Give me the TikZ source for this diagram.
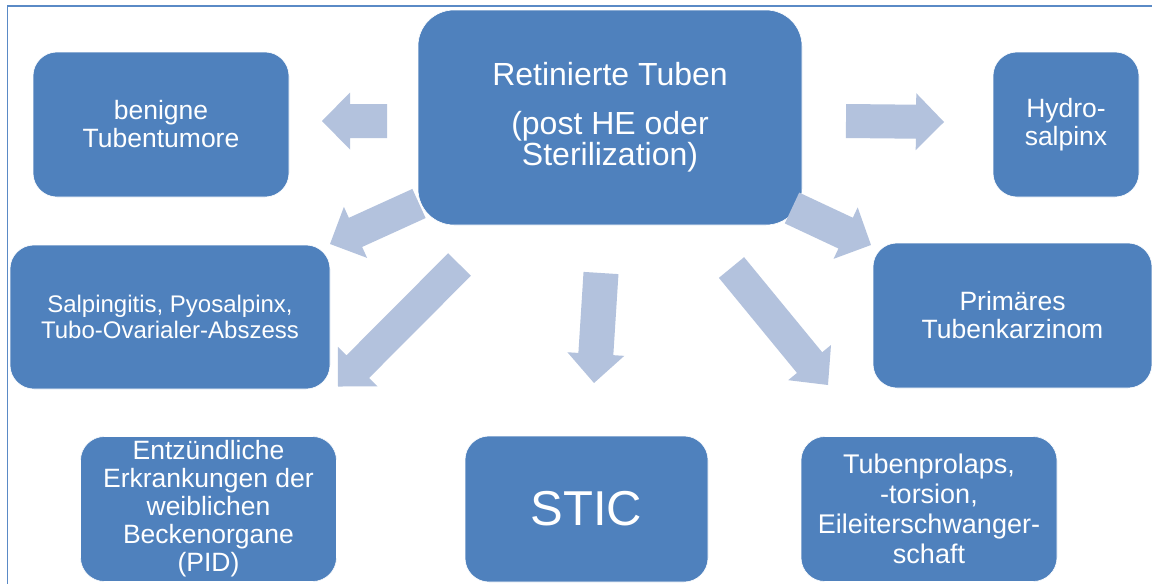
\documentclass[tikz,border=0pt]{standalone}
\usepackage{fontspec}
\setmainfont{Liberation Sans}
\usetikzlibrary{calc}

\definecolor{boxblue}{HTML}{4F81BD}
\definecolor{arrowblue}{HTML}{B3C2DD}
\definecolor{frameblue}{HTML}{5A8AC6}

\tikzset{
  box/.style={fill=boxblue, draw=white, line width=0.6pt, rounded corners=24pt,
    text=white, align=center, inner sep=0pt,
    font=\fontsize{26.5}{28}\selectfont},
  smallbox/.style={box, minimum width=256pt, minimum height=145pt},
  arrowfill/.style={fill=arrowblue},
}

% block arrow: #1 tail, #2 tip, #3 shaft half width, #4 head half width, #5 head length
\newcommand\blockarrow[5]{%
  \path let \p1=($(#2)-(#1)$), \n1={atan2(\y1,\x1)}, \n2={veclen(\x1,\y1)} in
    \pgfextra{\xdef\arrang{\n1}\xdef\arrlen{\n2}};
  \fill[arrowfill, shift={(#1)}, rotate=\arrang]
    (0,-#3) -- ({\arrlen-#5},-#3) -- ({\arrlen-#5},-#4) -- (\arrlen,0)
    -- ({\arrlen-#5},#4) -- ({\arrlen-#5},#3) -- (0,#3) -- cycle;
}

\begin{document}
\begin{tikzpicture}[x=1pt, y=-1pt]
  \useasboundingbox (0,0) rectangle (1152,584);
  \fill[white] (0,0) rectangle (1152,584);

  % outer frame
  \draw[frameblue, line width=1.5pt] (7.5,590) -- (7.5,6) -- (1160,6);

  % boxes
  \node[box, rounded corners=36pt, minimum width=384pt, minimum height=215pt,
        font=\fontsize{32}{28}\selectfont] (center) at (610,117.5)
        {Retinierte Tuben\\[21pt](post HE oder\\Sterilization)};
  \node[smallbox] (benign) at (161,124.5) {benigne\\Tubentumore};
  \node[box, minimum width=146pt, minimum height=145pt] (hydro) at (1066,124.5)
        {Hydro-\\salpinx};
  \node[box, minimum width=320pt, minimum height=144pt,
        font=\fontsize{24}{26}\selectfont] (salp) at (170,317)
        {Salpingitis, Pyosalpinx,\\Tubo-Ovarialer-Abszess};
  \node[box, minimum width=279pt, minimum height=145pt] (prim) at (1012.5,315.5)
        {Primäres\\Tubenkarzinom};
  \node[smallbox] (pid) at (208.5,509)
        {Entzündliche\\Erkrankungen der\\weiblichen\\Beckenorgane\\(PID)};
  \node[box, minimum width=243pt, minimum height=146pt,
        font=\fontsize{49}{56}\selectfont] (stic) at (586.5,509) {STIC};
  \node[smallbox, font=\fontsize{27}{30}\selectfont] (prolaps) at (929,509)
        {Tubenprolaps,\\-torsion,\\Eileiterschwanger-\\schaft};

  % arrow end points
  \coordinate (a1s) at (387,121);   \coordinate (a1e) at (322,121);
  \coordinate (a2s) at (846,121);   \coordinate (a2e) at (944,122);
  \coordinate (a3s) at (419,203.5); \coordinate (a3e) at (330,244);
  \coordinate (a4s) at (459.5,264.5); \coordinate (a4e) at (338,386.5);
  \coordinate (a5s) at (601,273);   \coordinate (a5e) at (594,383);
  \coordinate (a6s) at (731.5,267.5); \coordinate (a6e) at (828,385);
  \coordinate (a7s) at (792,208);   \coordinate (a7e) at (871,245);

  % arrows
  \blockarrow{a1s}{a1e}{17}{28.5}{28}
  \blockarrow{a2s}{a2e}{17}{28.5}{28}
  \blockarrow{a3s}{a3e}{16}{28}{28}
  \blockarrow{a4s}{a4e}{16}{28}{28}
  \blockarrow{a5s}{a5e}{17.5}{28.5}{29}
  \blockarrow{a6s}{a6e}{16.3}{27.7}{29}
  \blockarrow{a7s}{a7e}{17}{28.4}{28}
\end{tikzpicture}
\end{document}
